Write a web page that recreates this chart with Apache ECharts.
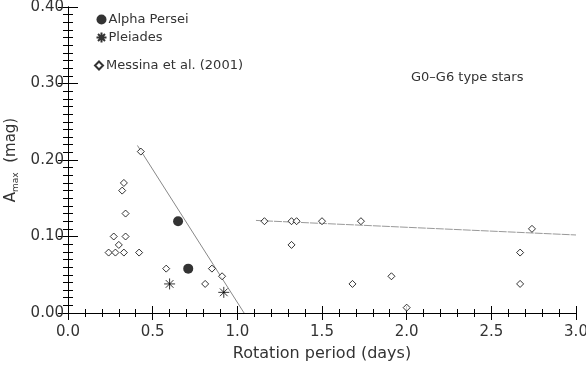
<!DOCTYPE html>
<html>
<head>
<meta charset="utf-8">
<script src="https://cdn.jsdelivr.net/npm/echarts@6/dist/echarts.min.js"></script>
<style>
  html, body { margin: 0; padding: 0; background: #fff; }
  #chart { width: 586px; height: 365px; }
</style>
</head>
<body>
<div id="chart"></div>
<script>
// data: [rotation period (days), Amax (mag)]
var alphaPersei = [[0.65, 0.120], [0.71, 0.058]];
var pleiades = [[0.60, 0.038], [0.92, 0.027]];
var messina = [
  [0.43, 0.211], [0.33, 0.170], [0.32, 0.160], [0.34, 0.130],
  [0.27, 0.100], [0.34, 0.100], [0.30, 0.089], [0.24, 0.079],
  [0.28, 0.079], [0.33, 0.079], [0.42, 0.079], [0.58, 0.058],
  [0.85, 0.058], [0.91, 0.048], [0.81, 0.038],
  [1.16, 0.120], [1.32, 0.120], [1.35, 0.120], [1.50, 0.120],
  [1.73, 0.120], [2.74, 0.110], [1.32, 0.089], [2.67, 0.079],
  [1.91, 0.048], [1.68, 0.038], [2.67, 0.038], [2.00, 0.007]
];
// fitted lines (end points)
var fitShort = [[0.41, 0.219], [1.04, 0.0]];
var fitLong = [[1.11, 0.121], [3.0, 0.102]];

var xTicks = { min: 0, max: 3, interval: 0.5, minor: 5 };
var yTicks = { min: 0, max: 0.4, interval: 0.1, minor: 10 };

var font = 'DejaVu Sans';
var ink = '#333';
var starPath = 'path://M0,-5L0,5M-5,0L5,0M-3.5,-3.5L3.5,3.5M-3.5,3.5L3.5,-3.5';
var diamondPath = 'path://M0,-5L5,0L0,5L-5,0Z';

var myChart = echarts.init(document.getElementById('chart'));

function axisLineStyle () {
  return { show: true, lineStyle: { color: '#000', width: 1 } };
}

var option = {
  animation: false,
  backgroundColor: '#fff',
  textStyle: { fontFamily: font, color: ink },
  grid: { left: 68, right: 10, top: 7, bottom: 52, containLabel: false, outerBoundsMode: 'none' },
  legend: [
    {
      orient: 'vertical', left: 89, top: 8, itemGap: 4,
      itemWidth: 12, itemHeight: 10,
      textStyle: { fontFamily: font, fontSize: 13, color: ink, padding: [0, 0, 0, -4] },
      data: ['Alpha Persei', 'Pleiades']
    },
    {
      orient: 'vertical', left: 89, top: 54,
      itemWidth: 12, itemHeight: 8,
      textStyle: { fontFamily: font, fontSize: 13, color: ink, padding: [0, 0, 0, -4] },
      data: ['Messina et al. (2001)']
    }
  ],
  title: {
    text: 'G0\u2013G6 type stars',
    left: 406, top: 66,
    textStyle: { fontFamily: font, fontSize: 13, fontWeight: 'normal', color: ink }
  },
  xAxis: [
    {
      type: 'value', min: xTicks.min, max: xTicks.max, interval: xTicks.interval,
      position: 'bottom',
      axisLine: axisLineStyle(),
      axisTick: { inside: true, length: 7, lineStyle: { color: '#000' } },
      minorTick: { show: true, splitNumber: xTicks.minor, length: 4, lineStyle: { color: '#000' } },
      splitLine: { show: false },
      axisLabel: { fontFamily: font, fontSize: 15, color: ink, margin: 12,
        formatter: function (v) { return v.toFixed(1); } },
      name: 'Rotation period (days)', nameLocation: 'middle', nameGap: 33,
      nameTextStyle: { fontFamily: font, fontSize: 16, color: ink }
    },
    {
      type: 'value', min: xTicks.min, max: xTicks.max, interval: xTicks.interval,
      position: 'top',
      axisLine: axisLineStyle(),
      axisTick: { inside: true, length: 7, lineStyle: { color: '#000' } },
      minorTick: { show: true, splitNumber: xTicks.minor, length: 4, lineStyle: { color: '#000' } },
      splitLine: { show: false },
      axisLabel: { show: false }
    }
  ],
  yAxis: [
    {
      type: 'value', min: yTicks.min, max: yTicks.max, interval: yTicks.interval,
      position: 'left',
      axisLine: axisLineStyle(),
      axisTick: { inside: true, length: 10, lineStyle: { color: '#000' } },
      minorTick: { show: true, splitNumber: yTicks.minor, length: 5, lineStyle: { color: '#000' } },
      splitLine: { show: false },
      axisLabel: { fontFamily: font, fontSize: 15, color: ink, margin: 4,
        formatter: function (v) { return v.toFixed(2); } },
      name: '{a|A}{s|max}{a|  (mag)}', nameLocation: 'middle', nameGap: 46,
      nameTextStyle: {
        rich: {
          a: { fontFamily: font, fontSize: 15, color: ink },
          s: { fontFamily: font, fontSize: 9, color: ink, verticalAlign: 'bottom', padding: [9, 0, 0, 0] }
        }
      }
    },
    {
      type: 'value', min: yTicks.min, max: yTicks.max, interval: yTicks.interval,
      position: 'right',
      axisLine: axisLineStyle(),
      axisTick: { inside: true, length: 10, lineStyle: { color: '#000' } },
      minorTick: { show: true, splitNumber: yTicks.minor, length: 5, lineStyle: { color: '#000' } },
      splitLine: { show: false },
      axisLabel: { show: false }
    }
  ],
  series: [
    {
      name: 'fit short', type: 'line', data: fitShort, symbol: 'none',
      lineStyle: { color: '#888', width: 1 }, silent: true, z: 1
    },
    {
      name: 'fit long', type: 'line', data: fitLong, symbol: 'none',
      lineStyle: { color: '#999', width: 1, type: [8, 1] }, silent: true, z: 1
    },
    {
      name: 'Messina et al. (2001)', type: 'scatter', data: messina,
      symbol: diamondPath, symbolSize: 7,
      itemStyle: { color: '#fff', borderColor: '#000', borderWidth: 1 }, z: 3
    },
    {
      name: 'Alpha Persei', type: 'scatter', data: alphaPersei,
      symbol: 'circle', symbolSize: 10,
      itemStyle: { color: '#000' }, z: 4
    },
    {
      name: 'Pleiades', type: 'scatter', data: pleiades,
      symbol: starPath, symbolSize: 11,
      itemStyle: { color: 'none', borderColor: '#000', borderWidth: 1 }, z: 4
    }
  ]
};
myChart.setOption(option);
</script>
</body>
</html>
